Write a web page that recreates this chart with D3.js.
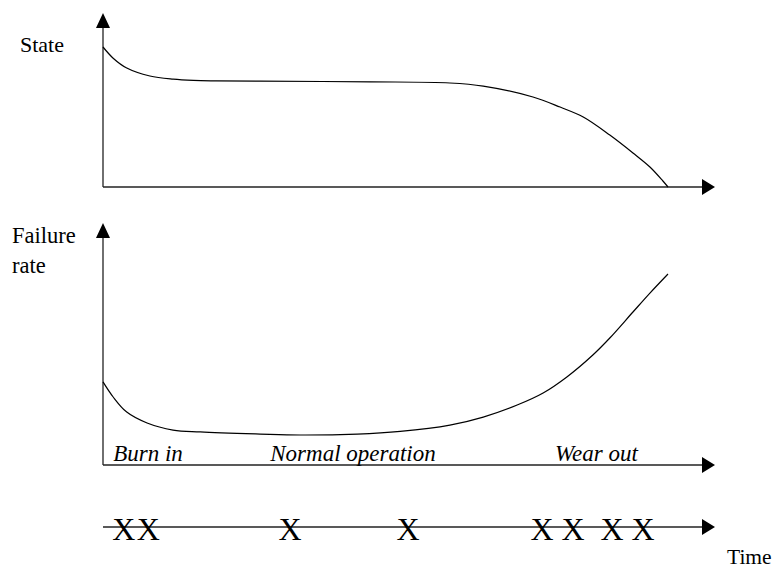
<!DOCTYPE html>
<html>
<head>
<meta charset="utf-8">
<script src="https://cdn.jsdelivr.net/npm/d3@7"></script>
<style>
  html, body { margin: 0; padding: 0; background: #fff; }
  svg { display: block; }
  svg text { font-family: "Liberation Serif", "DejaVu Serif", serif; }
</style>
</head>
<body>
<svg id="chart" width="777" height="568"></svg>
<script>
// ---- data (time in % of lifetime, values in % of axis height) ----
const stateTime   = [0, 1.8, 4.2, 8.3, 12.4, 16, 20, 27.8, 47.3, 61.4, 67.3, 76.1, 80.9, 85, 89.7, 93.8, 96.8, 99.1, 100];
const stateValue  = [100, 92, 85, 79.3, 77.0, 76.1, 75.8, 75.6, 75.1, 74.3, 72.1, 64.3, 57.1, 50, 37.1, 24.3, 14.3, 4.3, 0];

const failTime    = [0, 1.8, 4.2, 7.8, 12.4, 17.2, 27.8, 34.9, 45, 52.6, 61.4, 67.3, 73.3, 77.9, 82.1, 86.7, 89.7, 93.8, 96.8, 100];
const failValue   = [43.5, 35.6, 27.7, 22, 18.3, 17.3, 16.2, 15.7, 16.2, 17.6, 20.9, 25.1, 31.4, 37.7, 46.1, 57.6, 66.5, 80.1, 90, 100];

const failureEvents = [3.7, 8.0, 33.1, 54.0, 77.7, 83.2, 90.1, 95.6];

const phaseLabels = ["Burn in", "Normal operation", "Wear out"];
const phaseStart  = [1.8, 29.6, 80];

const yLabels = ["State", "Failure rate"];
const xLabel = "Time";

// ---- layout ----
const svg = d3.select("#chart");
const axisColor = "#222";
const x = d3.scaleLinear().domain([0, 100]).range([103, 668]);
const xAxisEnd = 715;

const yState = d3.scaleLinear().domain([0, 100]).range([187, 47]);
const yFail  = d3.scaleLinear().domain([0, 100]).range([465, 274]);

function arrowRight(xTip, y) {
  svg.append("path")
    .attr("d", `M${xTip},${y} L${xTip-13},${y-8} L${xTip-13},${y+8} Z`)
    .attr("fill", "#000");
}
function arrowUp(xc, yTip) {
  svg.append("path")
    .attr("d", `M${xc},${yTip} L${xc-7},${yTip+15} L${xc+7},${yTip+15} Z`)
    .attr("fill", "#000");
}
function axes(yScale, yTop) {
  const x0 = x(0), y0 = yScale(0);
  svg.append("line").attr("x1", x0).attr("y1", y0).attr("x2", x0).attr("y2", yTop + 14)
    .attr("stroke", axisColor).attr("stroke-width", 1.3);
  arrowUp(x0, yTop);
  svg.append("line").attr("x1", x0).attr("y1", y0).attr("x2", xAxisEnd - 12).attr("y2", y0)
    .attr("stroke", axisColor).attr("stroke-width", 1.3);
  arrowRight(xAxisEnd, y0);
}

axes(yState, 13);
axes(yFail, 223);

const curve = d3.curveCatmullRom.alpha(0.5);
const stateLine = d3.line().x((d, i) => x(stateTime[i])).y(d => yState(d)).curve(curve);
svg.append("path").attr("d", stateLine(stateValue))
  .attr("fill", "none").attr("stroke", "#000").attr("stroke-width", 1.2);

const failLine = d3.line().x((d, i) => x(failTime[i])).y(d => yFail(d)).curve(curve);
svg.append("path").attr("d", failLine(failValue))
  .attr("fill", "none").attr("stroke", "#000").attr("stroke-width", 1.2);

function txt(xp, yp, size, s, italic, anchor) {
  return svg.append("text").attr("x", xp).attr("y", yp)
    .style("font-size", size + "px")
    .style("font-style", italic ? "italic" : "normal")
    .attr("text-anchor", anchor || "start")
    .attr("fill", "#000").text(s);
}

// labels
txt(20, 52, 22, yLabels[0]);
const parts = yLabels[1].split(" ");
txt(12, 243, 22.5, parts[0]);
txt(12, 273, 22.5, parts[1]);

phaseLabels.forEach((p, i) => txt(x(phaseStart[i]), 461, 23, p, true));

// timeline
const tlY = 527;
svg.append("line").attr("x1", x(0)).attr("y1", tlY).attr("x2", xAxisEnd - 12).attr("y2", tlY)
  .attr("stroke", axisColor).attr("stroke-width", 1.3);
arrowRight(xAxisEnd, tlY);
svg.selectAll("text.ev").data(failureEvents).enter().append("text")
  .attr("class", "ev")
  .attr("x", d => x(d)).attr("y", 540)
  .attr("text-anchor", "middle").style("font-size", "32px")
  .attr("fill", "#000")
  .text("X");

txt(727, 564, 21.5, xLabel);
</script>
</body>
</html>
